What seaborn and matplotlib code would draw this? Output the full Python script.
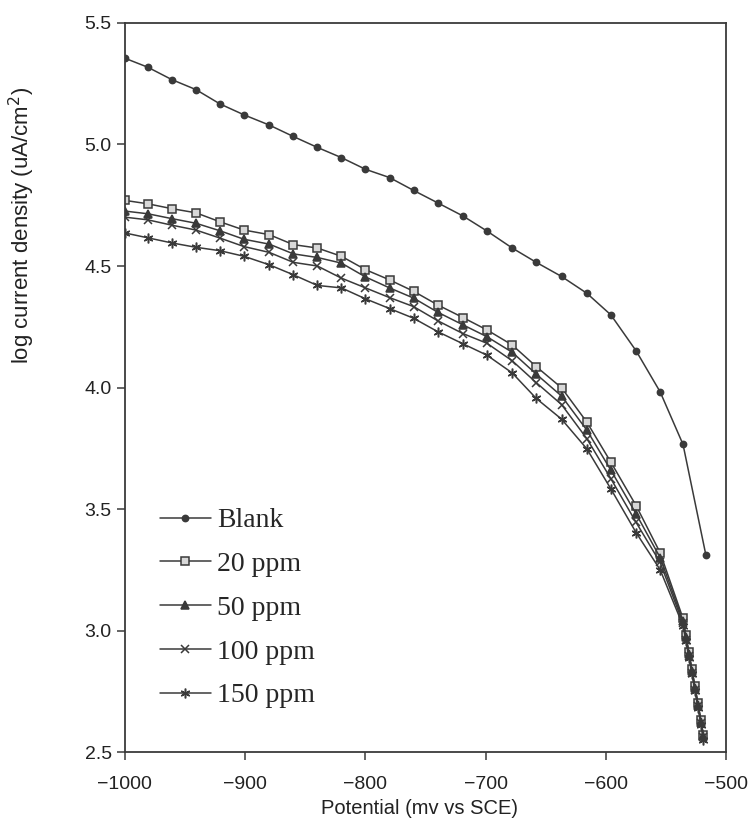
import pandas as pd
import matplotlib
matplotlib.use("Agg")
import matplotlib.pyplot as plt
import seaborn as sns

# potential (mV vs SCE)
blank_x = [-1000, -981, -961, -941, -921, -901, -880, -860, -840, -820, -800, -780, -760,
           -740, -719, -699, -678, -658, -637, -616, -596, -575, -555, -536, -517]
blank_y = [5.355, 5.318, 5.267, 5.226, 5.167, 5.122, 5.080, 5.033, 4.988, 4.946, 4.898,
           4.864, 4.811, 4.760, 4.706, 4.644, 4.574, 4.515, 4.457, 4.388, 4.299, 4.151,
           3.982, 3.766, 3.311]

inh_x = [-1000, -981, -961, -941, -921, -901, -880, -860, -840, -820, -800, -780, -760,
         -740, -719, -699, -678, -658, -637, -616, -596, -575, -555, -536,
         -533.5, -531, -528.5, -526, -523.5, -521, -519]
ppm20 = [4.770, 4.756, 4.736, 4.719, 4.682, 4.648, 4.629, 4.588, 4.574, 4.540, 4.485,
         4.443, 4.396, 4.340, 4.288, 4.237, 4.175, 4.086, 3.999, 3.858, 3.693, 3.514,
         3.320, 3.050, 2.980, 2.910, 2.840, 2.770, 2.700, 2.630, 2.570]
ppm50 = [4.726, 4.715, 4.695, 4.676, 4.645, 4.610, 4.590, 4.550, 4.535, 4.512, 4.455,
         4.410, 4.368, 4.310, 4.258, 4.209, 4.145, 4.055, 3.965, 3.825, 3.660, 3.480,
         3.300, 3.040, 2.972, 2.903, 2.833, 2.763, 2.694, 2.624, 2.565]
ppm100 = [4.701, 4.690, 4.668, 4.648, 4.615, 4.580, 4.556, 4.515, 4.500, 4.450, 4.410,
          4.370, 4.333, 4.275, 4.222, 4.182, 4.110, 4.020, 3.930, 3.790, 3.625, 3.445,
          3.280, 3.030, 2.963, 2.895, 2.826, 2.757, 2.688, 2.619, 2.560]
ppm150 = [4.636, 4.616, 4.595, 4.577, 4.563, 4.540, 4.505, 4.464, 4.420, 4.410, 4.365,
          4.325, 4.285, 4.230, 4.180, 4.133, 4.060, 3.955, 3.870, 3.748, 3.583, 3.403,
          3.250, 3.020, 2.955, 2.888, 2.820, 2.751, 2.682, 2.613, 2.550]

series = ["Blank", "20 ppm", "50 ppm", "100 ppm", "150 ppm"]
xs = [blank_x, inh_x, inh_x, inh_x, inh_x]
ys = [blank_y, ppm20, ppm50, ppm100, ppm150]

sns.set_style("white")
plt.rcParams["font.family"] = ["Liberation Sans", "DejaVu Sans"]

ink = "#3a3a3a"
fig = plt.figure(figsize=(7.48, 8.21), dpi=100)
ax = fig.add_axes([0.167, 0.084, 0.804, 0.888])

markers = ["o", "s", "^", "x", (6, 2, 0)]
faces = [ink, "#d8d8d8", ink, ink, ink]
sizes = [4.5, 5.5, 5.5, 6, 7]

for name, x, y, m, fc, ms in zip(series, xs, ys, markers, faces, sizes):
    d = pd.DataFrame({"potential": x, "logi": y})
    sns.lineplot(data=d, x="potential", y="logi", color=ink, marker=m, sort=False,
                 estimator=None, linewidth=1.1, markersize=ms, markerfacecolor=fc,
                 markeredgecolor=ink, markeredgewidth=1.1, label=name, ax=ax)

ax.set_xlim(-1000, -500)
ax.set_ylim(2.5, 5.5)
ax.set_xticks([-1000, -900, -800, -700, -600, -500])
ax.set_yticks([2.5, 3.0, 3.5, 4.0, 4.5, 5.0, 5.5])
ax.set_yticklabels(["2.5", "3.0", "3.5", "4.0", "4.5", "5.0", "5.5"])
ax.tick_params(axis="both", direction="out", length=6, width=1.1, colors=ink,
               labelsize=14, labelcolor="#222222", left=True, bottom=True)
ax.tick_params(axis="x", pad=11)
for sp in ax.spines.values():
    sp.set_color(ink)
    sp.set_linewidth(1.3)

ax.set_xlabel("Potential (mv vs SCE)", fontsize=14.5, color="#222222")
ax.xaxis.set_label_coords(0.49, -0.065)
ax.set_ylabel("log current density (uA/cm$^2$)", fontsize=16, color="#222222")
ax.yaxis.set_label_coords(-0.147, 0.723)

handles, labels = ax.get_legend_handles_labels()
ax.legend(handles, labels, loc="upper left", bbox_to_anchor=(0.058, 0.335),
          frameon=False, borderaxespad=0, borderpad=0, handlelength=1.85,
          handletextpad=0.22, labelspacing=0.66,
          prop={"family": "Liberation Serif", "size": 20})

fig.savefig("out.png", dpi=100, facecolor="white")
